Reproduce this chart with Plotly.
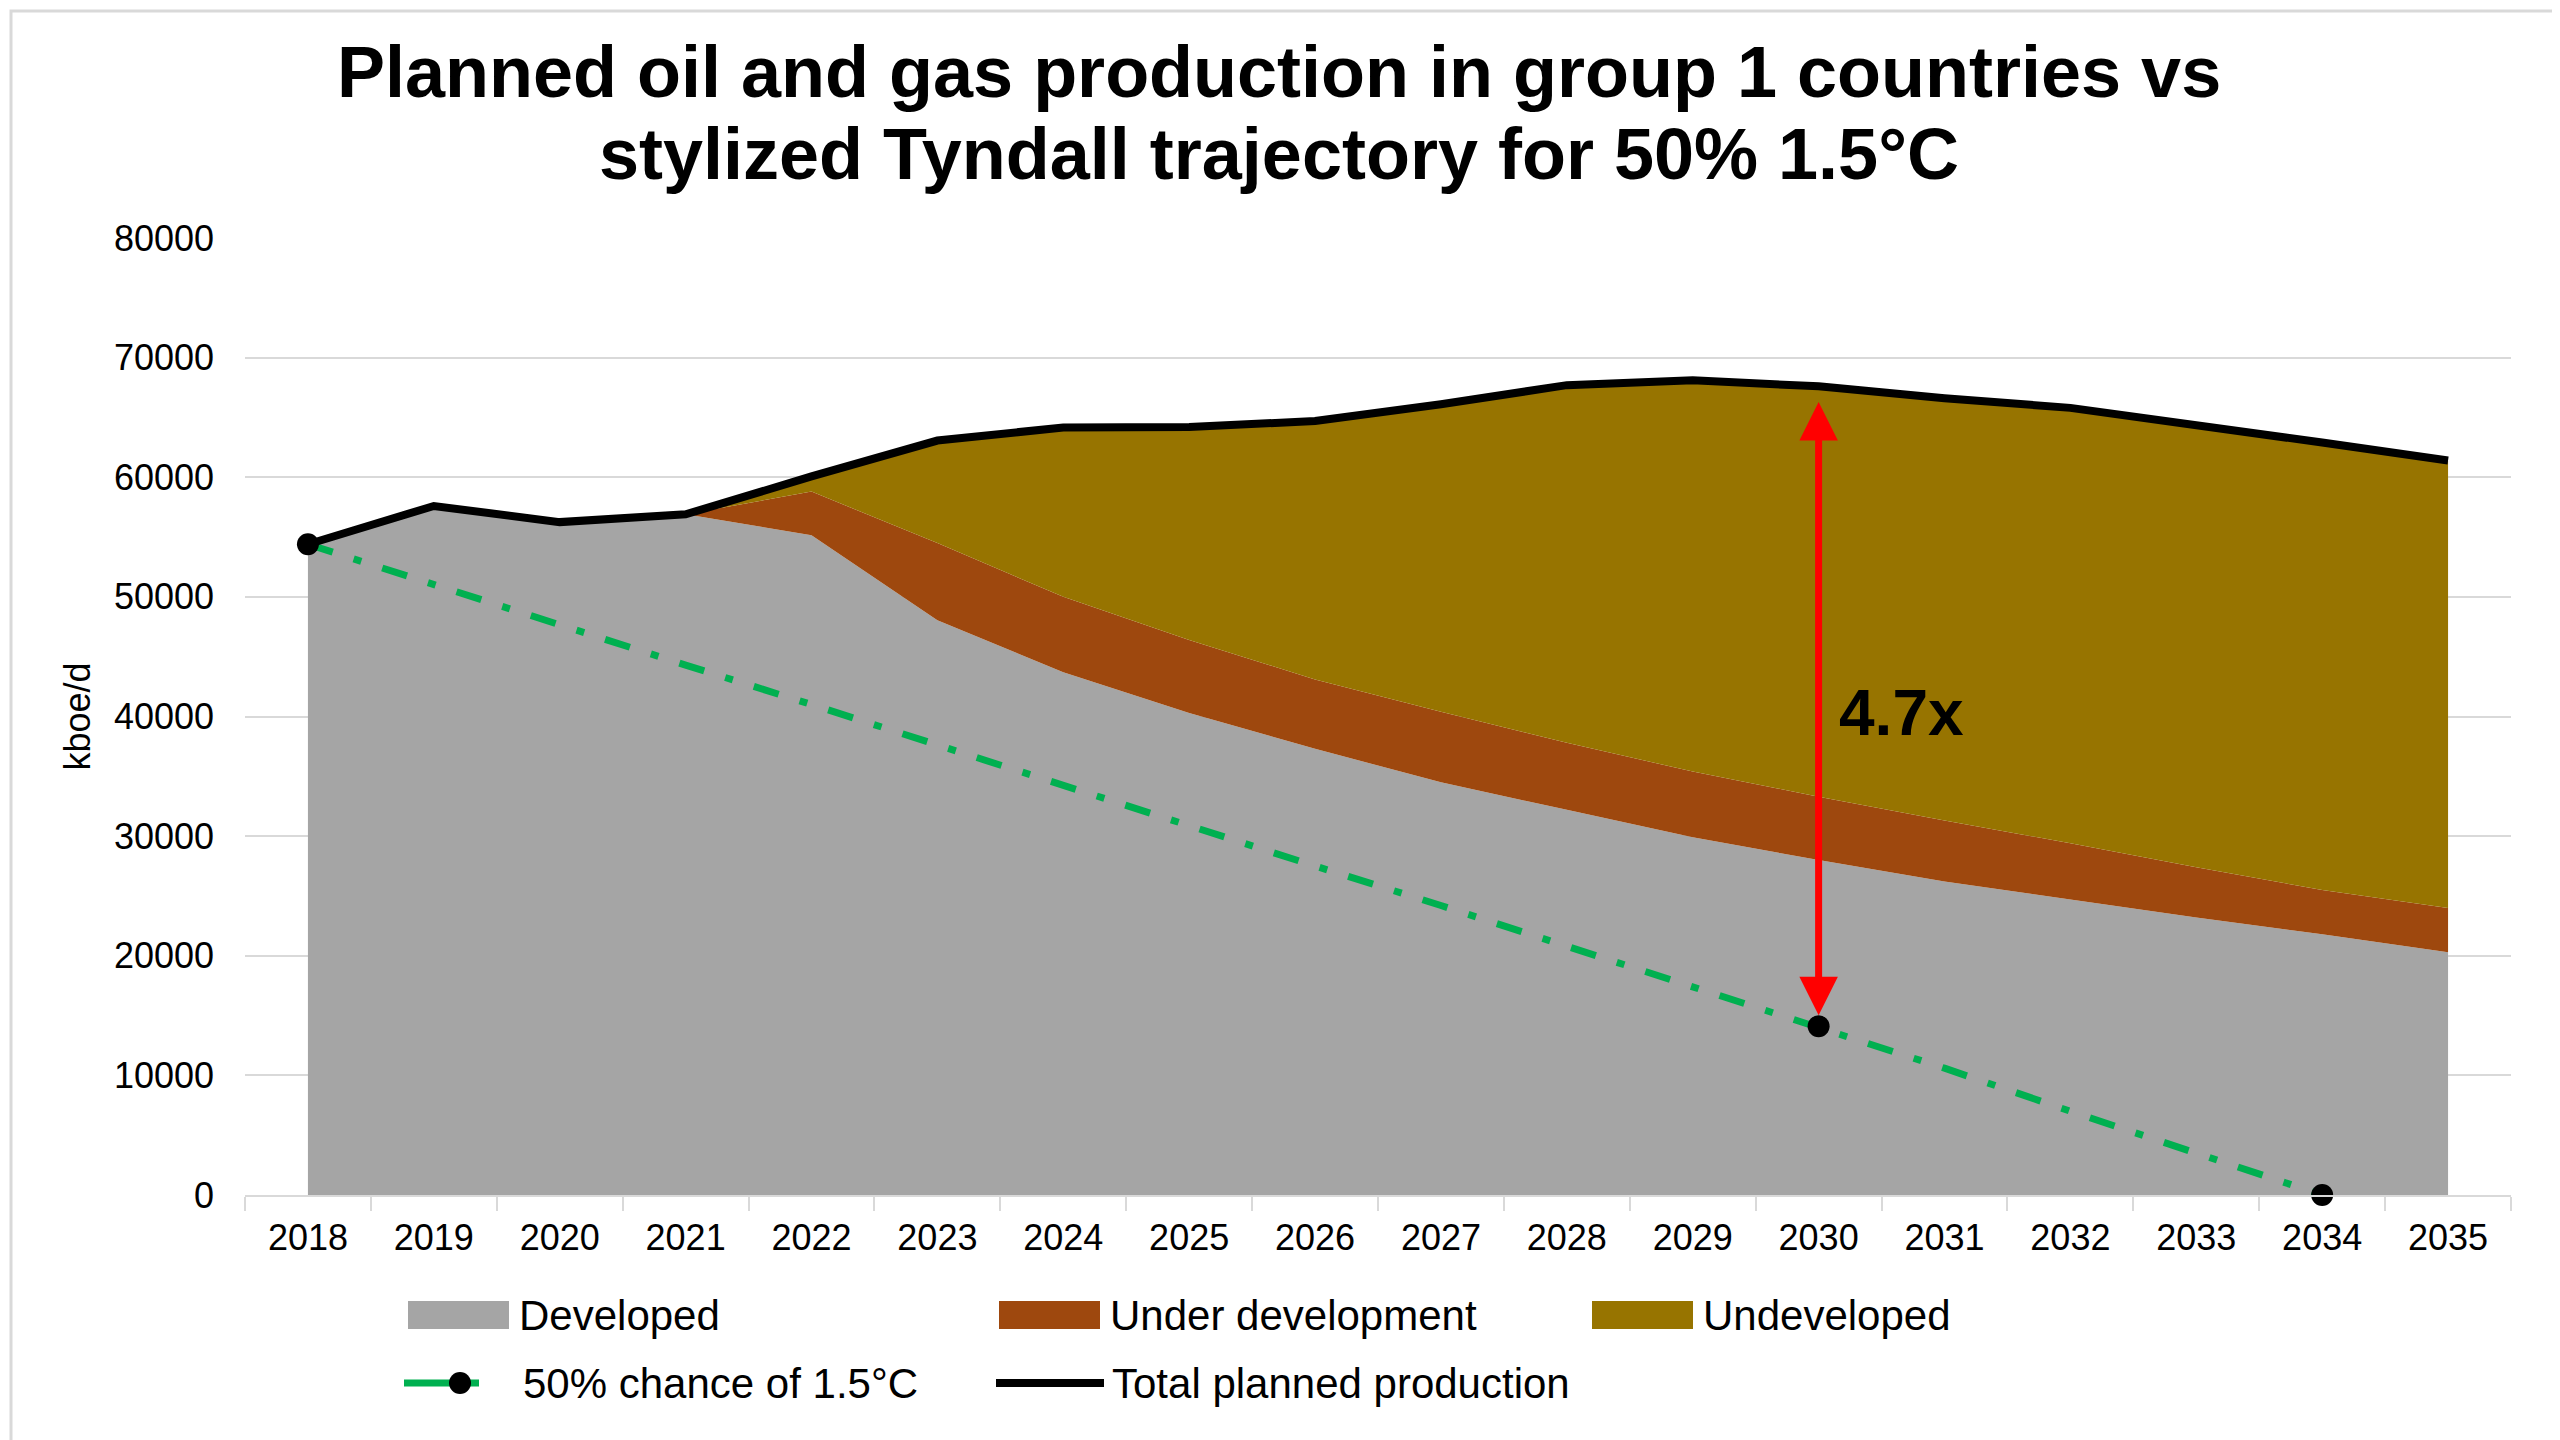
import plotly.graph_objects as go

# Datos (kboe/d)
years = [str(y) for y in range(2018, 2036)]
developed = [54400, 57600, 56250, 56900, 55150, 48050, 43700, 40300, 37300,
             34500, 32200, 29900, 28000, 26200, 24700, 23200, 21800, 20300]
under_dev = [0, 0, 0, 0, 3650, 6450, 6300, 6100, 5800,
             5900, 5600, 5500, 5300, 5100, 4700, 4200, 3700, 3700]
undeveloped = [0, 0, 0, 0, 1270, 8570, 14160, 17800, 21600,
               25700, 29900, 32700, 34300, 35300, 36400, 37000, 37400, 37400]
total = [54400, 57600, 56250, 56900, 60070, 63070, 64160, 64200, 64700,
         66100, 67700, 68100, 67600, 66600, 65800, 64400, 62900, 61400]
tyndall = [54400, 51000, 47700, 44300, 41000, 37600, 34200, 30900, 27500,
           24200, 20800, 17400, 14100, 10600, 7000, 3500, 0, None]
tyndall_marker = [22, 0, 0, 0, 0, 0, 0, 0, 0, 0, 0, 0, 22, 0, 0, 0, 22, 0]

title_lines = ["Planned oil and gas production in group 1 countries vs",
               "stylized Tyndall trajectory for 50% 1.5°C"]

FONT = "Liberation Sans, Arial, sans-serif"
GRAY, ORANGE, OLIVE, GREEN = "#A5A5A5", "#9E480E", "#977400", "#00B050"

W, H = 2560, 1440
L, R, T, B = 237, 57, 230, 253
PW, PH = W - L - R, H - T - B


def px(x):
    return (x - L) / PW


def py(y):
    return (H - B - y) / PH


fig = go.Figure()

# Areas apiladas
fig.add_trace(go.Scatter(x=years, y=developed, name="Developed", stackgroup="one",
                         mode="none", fillcolor=GRAY))
fig.add_trace(go.Scatter(x=years, y=under_dev, name="Under development", stackgroup="one",
                         mode="none", fillcolor=ORANGE))
fig.add_trace(go.Scatter(x=years, y=undeveloped, name="Undeveloped", stackgroup="one",
                         mode="none", fillcolor=OLIVE))

# Trayectoria Tyndall
fig.add_trace(go.Scatter(x=years, y=tyndall, name="50% chance of 1.5°C",
                         mode="lines", line=dict(color=GREEN, width=7,
                                                 dash="26px,22px,8px,22px")))

# Produccion total planeada
fig.add_trace(go.Scatter(x=years, y=total, name="Total planned production",
                         mode="lines", line=dict(color="black", width=8)))

# Puntos de la trayectoria
fig.add_trace(go.Scatter(x=years, y=tyndall, mode="markers", showlegend=False,
                         cliponaxis=False,
                         marker=dict(color="black", size=tyndall_marker,
                                     line=dict(width=0), opacity=1)))

# Flecha roja y etiqueta 4.7x
fig.add_annotation(x=12, y=66300, ax=12, ay=14900, xref="x", yref="y",
                   axref="x", ayref="y", text="", showarrow=True,
                   arrowhead=2, arrowside="end+start", arrowsize=1.1,
                   arrowwidth=7, arrowcolor="#FF0000")
fig.add_annotation(x=12.15, y=40270, xref="x", yref="y", text="<b>4.7x</b>",
                   showarrow=False, xanchor="left", yanchor="middle",
                   font=dict(family=FONT, size=64, color="black"))

# Titulo en dos lineas (interlineado ajustado)
for line, yc in zip(title_lines, [64, 146]):
    fig.add_annotation(x=px(1271), y=py(yc), xref="paper", yref="paper",
                       text="<b>" + line + "</b>", showarrow=False,
                       xanchor="center", yanchor="middle",
                       font=dict(family=FONT, size=72, color="black"))

# Leyenda dibujada a mano (muestras rectangulares como en Excel)
row1, row2 = 1307, 1375
swatches = [(400, GRAY, "Developed"), (991, ORANGE, "Under development"),
            (1584, OLIVE, "Undeveloped")]
for x0, col, label in swatches:
    fig.add_shape(type="rect", xref="paper", yref="paper",
                  x0=px(x0), x1=px(x0 + 101), y0=py(row1 + 14), y1=py(row1 - 14),
                  fillcolor=col, line=dict(width=0))
    fig.add_annotation(x=px(x0 + 109), y=py(row1), xref="paper", yref="paper",
                       text=label, showarrow=False, xanchor="left", yanchor="middle",
                       font=dict(family=FONT, size=42, color="black"))

fig.add_shape(type="line", xref="paper", yref="paper",
              x0=px(396), x1=px(471), y0=py(row2), y1=py(row2),
              line=dict(color=GREEN, width=7))
fig.add_shape(type="circle", xref="paper", yref="paper",
              x0=px(441), x1=px(463), y0=py(row2 + 11), y1=py(row2 - 11),
              fillcolor="black", line=dict(width=0))
fig.add_annotation(x=px(513), y=py(row2), xref="paper", yref="paper",
                   text="50% chance of 1.5°C", showarrow=False, xanchor="left",
                   yanchor="middle", font=dict(family=FONT, size=42, color="black"))
fig.add_shape(type="line", xref="paper", yref="paper",
              x0=px(988), x1=px(1096), y0=py(row2), y1=py(row2),
              line=dict(color="black", width=8))
fig.add_annotation(x=px(1102), y=py(row2), xref="paper", yref="paper",
                   text="Total planned production", showarrow=False, xanchor="left",
                   yanchor="middle", font=dict(family=FONT, size=42, color="black"))

# Borde de la figura
fig.add_shape(type="rect", xref="paper", yref="paper",
              x0=px(3), x1=px(W - 3), y0=py(H - 3), y1=py(3),
              line=dict(color="#D9D9D9", width=3))

fig.update_layout(
    width=W, height=H,
    paper_bgcolor="white", plot_bgcolor="white",
    margin=dict(l=L, r=R, t=T, b=B),
    font=dict(family=FONT, color="black"),
    showlegend=False,
)

fig.update_xaxes(type="category", showgrid=False, showline=True, linecolor="#D9D9D9",
                 linewidth=2, ticks="outside", tickson="boundaries", ticklen=14,
                 tickcolor="#D9D9D9", tickwidth=2, ticklabelstandoff=10,
                 tickfont=dict(family=FONT, size=36, color="black"),
                 range=[-0.5, 17.5])
fig.update_yaxes(range=[0, 80000], dtick=10000, tickformat="d", showgrid=True,
                 gridcolor="#D9D9D9", gridwidth=2, zeroline=False, showline=False,
                 ticks="", ticklabelstandoff=30,
                 tickfont=dict(family=FONT, size=36, color="black"),
                 title=dict(text="kboe/d", font=dict(family=FONT, size=36, color="black"),
                            standoff=12))

fig.write_html("out.html")
